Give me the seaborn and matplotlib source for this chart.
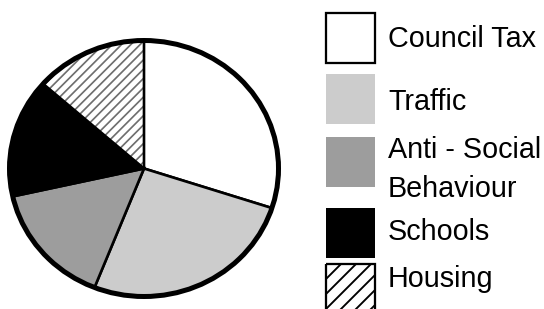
import matplotlib
matplotlib.use("Agg")
import matplotlib.pyplot as plt
import seaborn as sns
import numpy as np
from matplotlib.patches import Circle, Rectangle

sns.set_theme(style="white")
plt.rcParams['font.family'] = ['Liberation Sans', 'DejaVu Sans']

# Data
labels = ["Council Tax", "Traffic", "Anti - Social\nBehaviour", "Schools", "Housing"]
shares = [30, 26, 15.5, 15, 13.5]
colors = ["#ffffff", "#cccccc", "#9d9d9d", "#000000", "#ffffff"]
hatched = [False, False, False, False, True]

DPI = 68
fig = plt.figure(figsize=(544 / DPI, 309 / DPI), dpi=DPI)
fig.patch.set_facecolor("white")

# pie axes placed in pixels (slightly wider than tall, like the reference)
sx, sy = 134.5, 128.0
ax = fig.add_axes([(144 - sx) / 544, (309 - 168.5 - sy) / 309, 2 * sx / 544, 2 * sy / 309])
wedges, _ = ax.pie(shares, colors=colors, startangle=90, counterclock=False,
                   radius=1, wedgeprops=dict(edgecolor="black", linewidth=2.8))
ax.set_aspect("auto")
ax.set_xlim(-1, 1)
ax.set_ylim(-1, 1)

# diagonal hatching for the housing slice (45 degrees in pixels)
xs = np.array([-1.1, 1.1])
for w, h in zip(wedges, hatched):
    if not h:
        continue
    w.set_linewidth(0)
    w.set_zorder(0.5)
    for c in np.arange(-300, 300, 9.3):
        ln, = ax.plot(xs, xs * sx / sy + c / sy, color="#6e6e6e", lw=1.8,
                      zorder=0.7, solid_capstyle="butt")
        ln.set_clip_path(w)

ax.add_patch(Circle((0, 0), 1, fill=False, edgecolor="black", linewidth=5.3,
                    clip_on=False, zorder=3))
ax.axis("off")

# legend drawn in pixel coordinates
lax = fig.add_axes([310 / 544, 0, 234 / 544, 1])
lax.set_xlim(310, 544)
lax.set_ylim(309, 0)
lax.axis("off")

box_tops = [12.7, 74, 136.7, 208, 263.5]
baselines = [46.7, 110, 158, 240, 287]
for i, lab in enumerate(labels):
    edge = "black" if colors[i] == "#ffffff" else "none"
    rect = Rectangle((326.5, box_tops[i]), 49, 50 if i < 4 else 52,
                     facecolor=colors[i], edgecolor=edge, linewidth=2.4,
                     zorder=2)
    lax.add_patch(rect)
    if hatched[i]:
        lx = np.array([300, 400])
        for c in np.arange(500, 760, 15):
            ln, = lax.plot(lx, -lx + c, color="black", lw=2.0, zorder=1.5)
            ln.set_clip_path(rect)
        rect.set_facecolor("none")
        rect.set_zorder(2.5)
    lines = lab.split("\n")
    for j, line in enumerate(lines):
        lax.text(388, baselines[i] + j * 39, line, fontsize=30.5, va="baseline",
                 ha="left", color="black")

fig.savefig("out.png", dpi=DPI, facecolor="white")
